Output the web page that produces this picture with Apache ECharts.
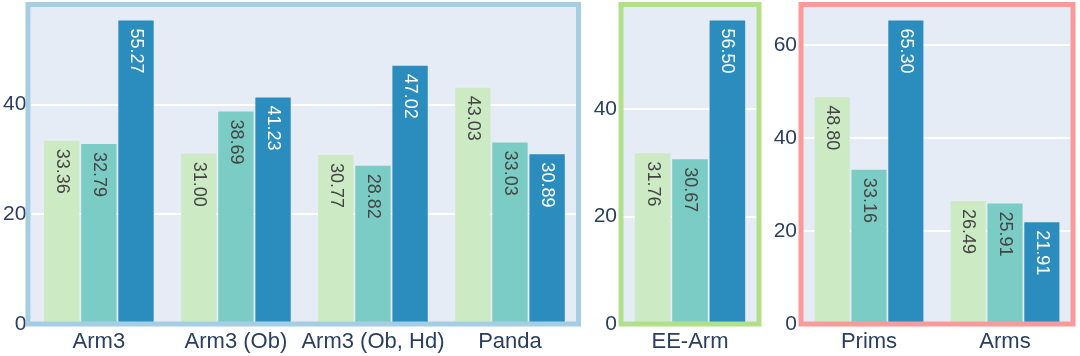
<!DOCTYPE html>
<html>
<head>
<meta charset="utf-8">
<script src="https://cdn.jsdelivr.net/npm/echarts@6/dist/echarts.min.js"></script>
<style>html,body{margin:0;padding:0;background:#fff;}#c{width:1080px;height:356px;}</style>
</head>
<body>
<div id="c"></div>
<script>
// Panel 1
const cats1 = ['Arm3', 'Arm3 (Ob)', 'Arm3 (Ob, Hd)', 'Panda'];
const p1s1 = [33.36, 31.00, 30.77, 43.03];
const p1s2 = [32.79, 38.69, 28.82, 33.03];
const p1s3 = [55.27, 41.23, 47.02, 30.89];
// Panel 2
const cats2 = ['EE-Arm'];
const p2s1 = [31.76];
const p2s2 = [30.67];
const p2s3 = [56.50];
// Panel 3
const cats3 = ['Prims', 'Arms'];
const p3s1 = [48.80, 26.49];
const p3s2 = [33.16, 25.91];
const p3s3 = [65.30, 21.91];
// axis
const yMax = [58.18, 59.47, 68.74];
const yStep = 20;

const colors = ['#ccebc5', '#7bccc4', '#2b8cbe'];
const labelColors = ['#444444', '#444444', '#ffffff'];
const borders = ['#a6cee3', '#b2df8a', '#fb9a99'];
const font = 'Liberation Sans, Arial, sans-serif';

const gridBoxes = [
  {left: 28, width: 550.5, top: 4.5, height: 319.5},
  {left: 621, width: 138, top: 4.5, height: 319.5},
  {left: 801, width: 272, top: 4.5, height: 319.5}
];
const grids = gridBoxes.map((g, i) => Object.assign({}, g, {
  show: true, backgroundColor: '#e5ecf6', borderWidth: 0, containLabel: false
}));
const graphics = gridBoxes.map((g, i) => ({
  type: 'rect', z: 100, silent: true,
  shape: {x: g.left, y: g.top, width: g.width, height: g.height},
  style: {fill: 'none', stroke: borders[i], lineWidth: 5}
}));

const catsAll = [cats1, cats2, cats3];
const xAxes = catsAll.map((c, i) => ({
  type: 'category', gridIndex: i, data: c,
  axisLine: {show: false}, axisTick: {show: false},
  axisLabel: {fontFamily: font, fontSize: 22, color: '#2a3f5f', margin: 7, interval: 0}
}));
const yAxes = yMax.map((m, i) => ({
  type: 'value', gridIndex: i, min: 0, max: m, interval: yStep,
  axisLine: {show: false}, axisTick: {show: false},
  splitLine: {show: true, lineStyle: {color: '#ffffff', width: 2}},
  axisLabel: {fontFamily: font, fontSize: 21, color: '#2a3f5f', margin: 4,
    formatter: v => (Math.abs(v % yStep) < 1e-6 ? String(v) : '')}
}));

const data = [[p1s1, p1s2, p1s3], [p2s1, p2s2, p2s3], [p3s1, p3s2, p3s3]];
const series = [];
data.forEach((panel, gi) => {
  panel.forEach((vals, si) => {
    series.push({
      type: 'bar', xAxisIndex: gi, yAxisIndex: gi, data: vals,
      barCategoryGap: '20%', barGap: '5%',
      itemStyle: {color: colors[si]},
      label: {
        show: true, position: 'insideTop', rotate: -90, align: 'left', verticalAlign: 'middle',
        distance: 8, fontFamily: font, fontSize: 18, color: labelColors[si],
        formatter: p => p.value.toFixed(2)
      },
      silent: true, animation: false
    });
  });
});

const chart = echarts.init(document.getElementById('c'), null, {renderer: 'canvas'});
chart.setOption({animation: false, grid: grids, xAxis: xAxes, yAxis: yAxes, series: series, graphic: graphics});
</script>
</body>
</html>
